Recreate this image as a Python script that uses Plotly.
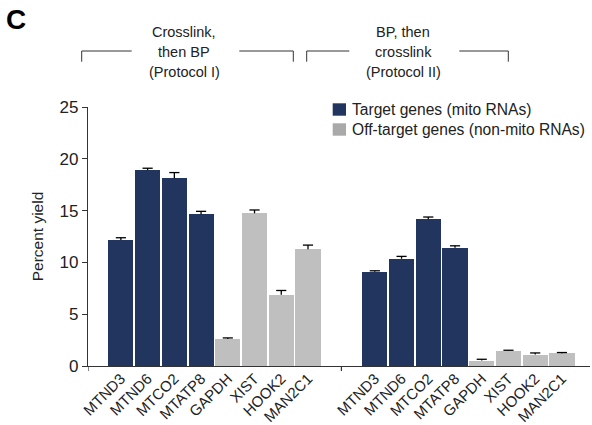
import plotly.graph_objects as go

genes = ["MTND3", "MTND6", "MTCO2", "MTATP8", "GAPDH", "XIST", "HOOK2", "MAN2C1"]
is_target = [True, True, True, True, False, False, False, False]

protocol1_vals = [12.16, 18.9, 18.12, 14.64, 2.61, 14.74, 6.87, 11.26]
protocol1_err = [0.22, 0.19, 0.55, 0.29, 0.10, 0.32, 0.42, 0.41]
protocol2_vals = [9.09, 10.35, 14.19, 11.41, 0.52, 1.45, 1.10, 1.23]
protocol2_err = [0.10, 0.23, 0.19, 0.19, 0.13, 0.07, 0.16, 0.07]

yticks = [0, 5, 10, 15, 20, 25]
legend_labels = ["Target genes (mito RNAs)", "Off-target genes (non-mito RNAs)"]
group_titles = [["Crosslink,", "then BP", "(Protocol I)"], ["BP, then", "crosslink", "(Protocol II)"]]

NAVY = "#22355E"
GRAY = "#BFBFBF"
GRAY_LEG = "#A9A9A9"
FONT = "Liberation Sans, Arial, sans-serif"

W, H = 592, 425
L, R, T, B = 88, 2, 107, 59
PW, PH = W - L - R, H - T - B

def px(x):
    return (x - L) / PW

def py(y):
    return (H - B - y) / PH

group2_offset = 9.5
xs1 = list(range(len(genes)))
xs2 = [i + group2_offset for i in range(len(genes))]
CAP = 0.19  # half-width of error caps in x units

fig = go.Figure()
for target, color in [(True, NAVY), (False, GRAY)]:
    xx, yy = [], []
    for xs, vals in [(xs1, protocol1_vals), (xs2, protocol2_vals)]:
        for i in range(len(genes)):
            if is_target[i] == target:
                xx.append(xs[i]); yy.append(vals[i])
    fig.add_trace(go.Bar(x=xx, y=yy, width=0.94,
                         marker=dict(color=color, line=dict(width=0)), showlegend=False))

ex, ey = [], []
for xs, vals, errs in [(xs1, protocol1_vals, protocol1_err), (xs2, protocol2_vals, protocol2_err)]:
    for x, v, e in zip(xs, vals, errs):
        ex += [x, x, None, x - CAP, x + CAP, None]
        ey += [v, v + e, None, v + e, v + e, None]
fig.add_trace(go.Scatter(x=ex, y=ey, mode="lines", line=dict(color="black", width=1.3),
                         showlegend=False, hoverinfo="skip"))

fig.update_layout(
    width=W, height=H, margin=dict(l=L, r=R, t=T, b=B, autoexpand=False),
    paper_bgcolor="white", plot_bgcolor="white",
    font=dict(family=FONT, size=16, color="#222222"),
    bargap=0,
    xaxis=dict(range=[-1.23, 17.55], tickvals=xs1 + xs2, ticktext=genes + genes,
               tickangle=-45, ticks="", showline=True, linecolor="#333333", linewidth=1.2,
               showgrid=False, zeroline=False, tickfont=dict(size=15), automargin=False,
               ticklabelstandoff=-3),
    yaxis=dict(range=[0, 25], tickvals=yticks, ticks="outside", ticklen=5, tickcolor="#333333",
               showline=True, linecolor="#333333", linewidth=1.2, showgrid=False, zeroline=False,
               title=dict(text="Percent yield", font=dict(size=15.5), standoff=12),
               tickfont=dict(size=17), automargin=False),
)

shapes = []
for xv in [-1.23, 8.25]:
    shapes.append(dict(type="line", xref="x", yref="paper", x0=xv, x1=xv, y0=0, y1=py(371),
                       line=dict(color="#333333", width=1.2)))
br = [(81.7, 131.7, 239.3, 293.3), (306.7, 349.3, 459.3, 508.3)]
for a, b, c, d in br:
    shapes.append(dict(type="path", xref="paper", yref="paper",
                       path=f"M {px(a)},{py(61.7)} L {px(a)},{py(51)} L {px(b)},{py(51)}",
                       line=dict(color="#333333", width=1)))
    shapes.append(dict(type="path", xref="paper", yref="paper",
                       path=f"M {px(c)},{py(51)} L {px(d)},{py(51)} L {px(d)},{py(61.7)}",
                       line=dict(color="#333333", width=1)))
for (y0, y1), col in zip([(103.3, 115.7), (123.3, 135.7)], [NAVY, GRAY_LEG]):
    shapes.append(dict(type="rect", xref="paper", yref="paper", x0=px(332.7), x1=px(346),
                       y0=py(y1), y1=py(y0), fillcolor=col, line=dict(width=0)))
fig.update_layout(shapes=shapes)

ann = []
centers = [184, 403]
for cx, lines in zip(centers, group_titles):
    for k, line in enumerate(lines):
        ann.append(dict(text=line, xref="paper", yref="paper", x=px(cx), y=py(32 + 20 * k),
                        xanchor="center", yanchor="middle", showarrow=False,
                        font=dict(size=14.5, color="#222222")))
for k, lab in enumerate(legend_labels):
    ann.append(dict(text=lab, xref="paper", yref="paper", x=px(350), y=py(109.5 + 20 * k),
                    xanchor="left", yanchor="middle", showarrow=False,
                    font=dict(size=15.6, color="#222222")))
ann.append(dict(text="<b>C</b>", xref="paper", yref="paper", x=px(4), y=py(19),
                xanchor="left", yanchor="middle", showarrow=False,
                font=dict(size=28, color="black")))
fig.update_layout(annotations=ann)

fig.write_html("out.html")
